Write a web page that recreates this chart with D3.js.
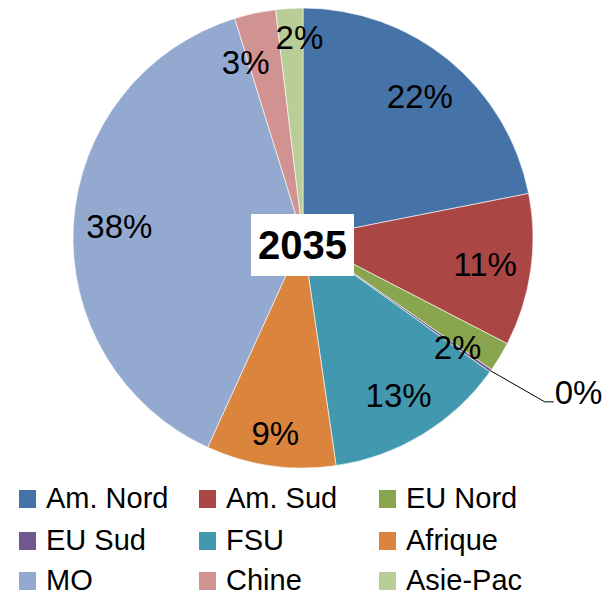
<!DOCTYPE html>
<html>
<head>
<meta charset="utf-8">
<script src="https://cdn.jsdelivr.net/npm/d3@7"></script>
<style>
  body { margin: 0; background: #fff; }
  text { font-family: "Liberation Sans", Arial, sans-serif; }
</style>
</head>
<body>
<div id="chart"></div>
<script>

// data (share of total, %)
var regions = ["Am. Nord", "Am. Sud", "EU Nord", "EU Sud", "FSU", "Afrique", "MO", "Chine", "Asie-Pac"];
var shares = [21.9, 10.7, 2.1, 0.2, 12.8, 9.1, 38.4, 2.9, 1.9];
var colors = ["#4572A7", "#AA4643", "#89A54E", "#71588F", "#4198AF", "#DB843D", "#93A9CF", "#D19392", "#B9CD96"];
var yearLabel = "2035";

var width = 608, height = 596;
var cx = 303, cy = 238, radius = 230;

var svg = d3.select("#chart").append("svg")
    .attr("width", width)
    .attr("height", height);

var g = svg.append("g")
    .attr("transform", "translate(" + cx + "," + cy + ")");

var total = d3.sum(shares);
var data = regions.map(function(r, i) { return {name: r, value: shares[i], color: colors[i]}; });

var pie = d3.pie()
    .sort(null)
    .value(function(d) { return d.value; });

var arc = d3.arc().innerRadius(0).outerRadius(radius);

// "best fit" nudges for crowded labels (angle shift in degrees, label radius)
var labelNudge = {
  "EU Nord": [4, 189],
  "Afrique": [0, 197],
  "Chine": [-6, 185],
  "Asie-Pac": [2.4, 201]
};

var arcs = pie(data);

g.selectAll("path.slice")
    .data(arcs)
  .enter().append("path")
    .attr("class", "slice")
    .attr("d", arc)
    .attr("fill", function(d) { return d.data.color; })
    .attr("stroke", "#fff")
    .attr("stroke-width", 0.6);

// labels; tiny slices get a leader line outside the pie
arcs.forEach(function(d) {
  var pct = Math.round(d.data.value / total * 100) + "%";
  var mid = (d.startAngle + d.endAngle) / 2;
  if (d.data.value / total < 0.01) {
    var p0 = [Math.sin(mid) * radius, -Math.cos(mid) * radius];
    var p1 = [p0[0] + 54, p0[1] + 31];
    var p2 = [p1[0] + 9, p1[1]];
    g.append("polyline")
      .attr("points", [p0, p1, p2].map(function(p) { return p.join(","); }).join(" "))
      .attr("fill", "none")
      .attr("stroke", "#000")
      .attr("stroke-width", 1);
    g.append("text")
      .attr("x", p2[0] + 1)
      .attr("y", p2[1] + 2)
      .attr("font-size", 33)
      .attr("fill", "#000")
      .text(pct);
  } else {
    var nudge = labelNudge[d.data.name] || [0, 184];
    var a = mid + nudge[0] * Math.PI / 180;
    g.append("text")
      .attr("x", Math.sin(a) * nudge[1])
      .attr("y", -Math.cos(a) * nudge[1])
      .attr("dy", "0.36em")
      .attr("text-anchor", "middle")
      .attr("font-size", 33)
      .attr("fill", "#000")
      .text(pct);
  }
});

// year box
var yb = svg.append("g");
yb.append("rect")
    .attr("x", 251).attr("y", 214)
    .attr("width", 103).attr("height", 62)
    .attr("fill", "#fff");
yb.append("text")
    .attr("x", 302.5).attr("y", 245)
    .attr("dy", "0.36em")
    .attr("text-anchor", "middle")
    .attr("font-size", 40)
    .attr("font-weight", "bold")
    .text(yearLabel);

// legend, 3 columns
var legend = svg.append("g");
var colX = [19, 199, 379], rowY = [490, 532, 572];
var items = legend.selectAll("g.item")
    .data(data)
  .enter().append("g")
    .attr("class", "item")
    .attr("transform", function(d, i) {
      return "translate(" + colX[i % 3] + "," + rowY[Math.floor(i / 3)] + ")";
    });

items.append("rect")
    .attr("width", 17).attr("height", 18)
    .attr("fill", function(d) { return d.color; });

items.append("text")
    .attr("x", 27)
    .attr("y", 18)
    .attr("font-size", 29)
    .attr("fill", "#000")
    .text(function(d) { return d.name; });

</script>
</body>
</html>
